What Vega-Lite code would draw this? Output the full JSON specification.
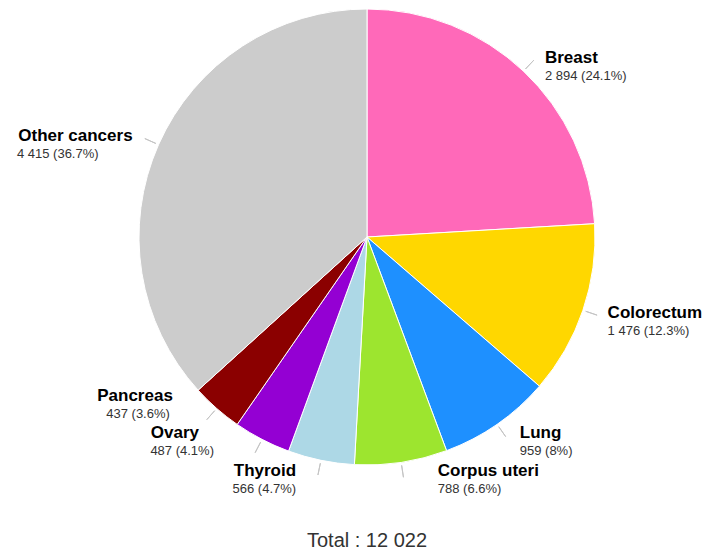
{
  "$schema": "https://vega.github.io/schema/vega-lite/v6.json",
  "width": 460,
  "height": 460,
  "autosize": {"type": "none"},
  "padding": {"left": 137, "top": 7, "right": 110, "bottom": 87},
  "background": "white",
  "title": {"text": "Total : 12 022", "orient": "bottom", "offset": 16, "font": "Liberation Sans", "fontSize": 20, "fontWeight": "normal", "color": "#333333", "anchor": "middle"},
  "config": {"view": {"stroke": null}, "text": {"font": "Liberation Sans", "baseline": "middle"}},
  "data": {"values": [
    {"i": 1, "cancer": "Breast", "count": 2894, "label": "2 894 (24.1%)"},
    {"i": 2, "cancer": "Colorectum", "count": 1476, "label": "1 476 (12.3%)"},
    {"i": 3, "cancer": "Lung", "count": 959, "label": "959 (8%)"},
    {"i": 4, "cancer": "Corpus uteri", "count": 788, "label": "788 (6.6%)"},
    {"i": 5, "cancer": "Thyroid", "count": 566, "label": "566 (4.7%)"},
    {"i": 6, "cancer": "Ovary", "count": 487, "label": "487 (4.1%)"},
    {"i": 7, "cancer": "Pancreas", "count": 437, "label": "437 (3.6%)"},
    {"i": 8, "cancer": "Other cancers", "count": 4415, "label": "4 415 (36.7%)"}
  ]},
  "encoding": {
    "theta": {"field": "count", "type": "quantitative", "stack": true},
    "order": {"field": "i", "type": "quantitative"},
    "radius": {"value": 252}
  },
  "layer": [
    {
      "mark": {"type": "arc", "outerRadius": 228, "stroke": "white", "strokeWidth": 1},
      "encoding": {
        "radius": null,
        "color": {"field": "cancer", "type": "nominal", "legend": null,
          "scale": {"domain": ["Breast", "Colorectum", "Lung", "Corpus uteri", "Thyroid", "Ovary", "Pancreas", "Other cancers"],
                    "range": ["#ff69b9", "#ffd700", "#1e90ff", "#9de52f", "#add8e6", "#9400d3", "#8b0000", "#cccccc"]}}
      }
    },
    {
      "mark": {"type": "arc", "innerRadius": 231, "outerRadius": 243, "padAngle": 3, "fill": null, "fillOpacity": 0, "stroke": "#c4c4c4", "strokeWidth": 1},
      "encoding": {"radius": null}
    },
    {"mark": {"type": "text", "align": "left", "dx": 5, "dy": 4, "fontSize": 17, "fontWeight": "bold", "color": "#000000"},
     "encoding": {"text": {"condition": {"test": "datum.cancer == 'Breast'", "field": "cancer"}, "value": ""}}},
    {"mark": {"type": "text", "align": "left", "dx": 5, "dy": 22, "fontSize": 13, "color": "#333333"},
     "encoding": {"text": {"condition": {"test": "datum.cancer == 'Breast'", "field": "label"}, "value": ""}}},

    {"mark": {"type": "text", "align": "left", "dx": 2, "dy": -5, "fontSize": 17, "fontWeight": "bold", "color": "#000000"},
     "encoding": {"text": {"condition": {"test": "datum.cancer == 'Colorectum'", "field": "cancer"}, "value": ""}}},
    {"mark": {"type": "text", "align": "left", "dx": 2, "dy": 13, "fontSize": 13, "color": "#333333"},
     "encoding": {"text": {"condition": {"test": "datum.cancer == 'Colorectum'", "field": "label"}, "value": ""}}},

    {"mark": {"type": "text", "align": "left", "dx": 9, "dy": -11, "fontSize": 17, "fontWeight": "bold", "color": "#000000"},
     "encoding": {"text": {"condition": {"test": "datum.cancer == 'Lung'", "field": "cancer"}, "value": ""}}},
    {"mark": {"type": "text", "align": "left", "dx": 9, "dy": 7, "fontSize": 13, "color": "#333333"},
     "encoding": {"text": {"condition": {"test": "datum.cancer == 'Lung'", "field": "label"}, "value": ""}}},

    {"mark": {"type": "text", "align": "left", "dx": 33, "dy": -15, "fontSize": 17, "fontWeight": "bold", "color": "#000000"},
     "encoding": {"text": {"condition": {"test": "datum.cancer == 'Corpus uteri'", "field": "cancer"}, "value": ""}}},
    {"mark": {"type": "text", "align": "left", "dx": 33, "dy": 3, "fontSize": 13, "color": "#333333"},
     "encoding": {"text": {"condition": {"test": "datum.cancer == 'Corpus uteri'", "field": "label"}, "value": ""}}},

    {"mark": {"type": "text", "align": "right", "dx": -20, "dy": -13, "fontSize": 17, "fontWeight": "bold", "color": "#000000"},
     "encoding": {"text": {"condition": {"test": "datum.cancer == 'Thyroid'", "field": "cancer"}, "value": ""}}},
    {"mark": {"type": "text", "align": "right", "dx": -20, "dy": 5, "fontSize": 13, "color": "#333333"},
     "encoding": {"text": {"condition": {"test": "datum.cancer == 'Thyroid'", "field": "label"}, "value": ""}}},

    {"mark": {"type": "text", "align": "right", "dx": -52, "dy": -28, "fontSize": 17, "fontWeight": "bold", "color": "#000000"},
     "encoding": {"text": {"condition": {"test": "datum.cancer == 'Ovary'", "field": "cancer"}, "value": ""}}},
    {"mark": {"type": "text", "align": "right", "dx": -37, "dy": -10, "fontSize": 13, "color": "#333333"},
     "encoding": {"text": {"condition": {"test": "datum.cancer == 'Ovary'", "field": "label"}, "value": ""}}},

    {"mark": {"type": "text", "align": "right", "dx": -28, "dy": -30, "fontSize": 17, "fontWeight": "bold", "color": "#000000"},
     "encoding": {"text": {"condition": {"test": "datum.cancer == 'Pancreas'", "field": "cancer"}, "value": ""}}},
    {"mark": {"type": "text", "align": "right", "dx": -31, "dy": -12, "fontSize": 13, "color": "#333333"},
     "encoding": {"text": {"condition": {"test": "datum.cancer == 'Pancreas'", "field": "label"}, "value": ""}}},

    {"mark": {"type": "text", "align": "right", "dx": -4, "dy": 1, "fontSize": 17, "fontWeight": "bold", "color": "#000000"},
     "encoding": {"text": {"condition": {"test": "datum.cancer == 'Other cancers'", "field": "cancer"}, "value": ""}}},
    {"mark": {"type": "text", "align": "right", "dx": -38, "dy": 19, "fontSize": 13, "color": "#333333"},
     "encoding": {"text": {"condition": {"test": "datum.cancer == 'Other cancers'", "field": "label"}, "value": ""}}}
  ]
}
